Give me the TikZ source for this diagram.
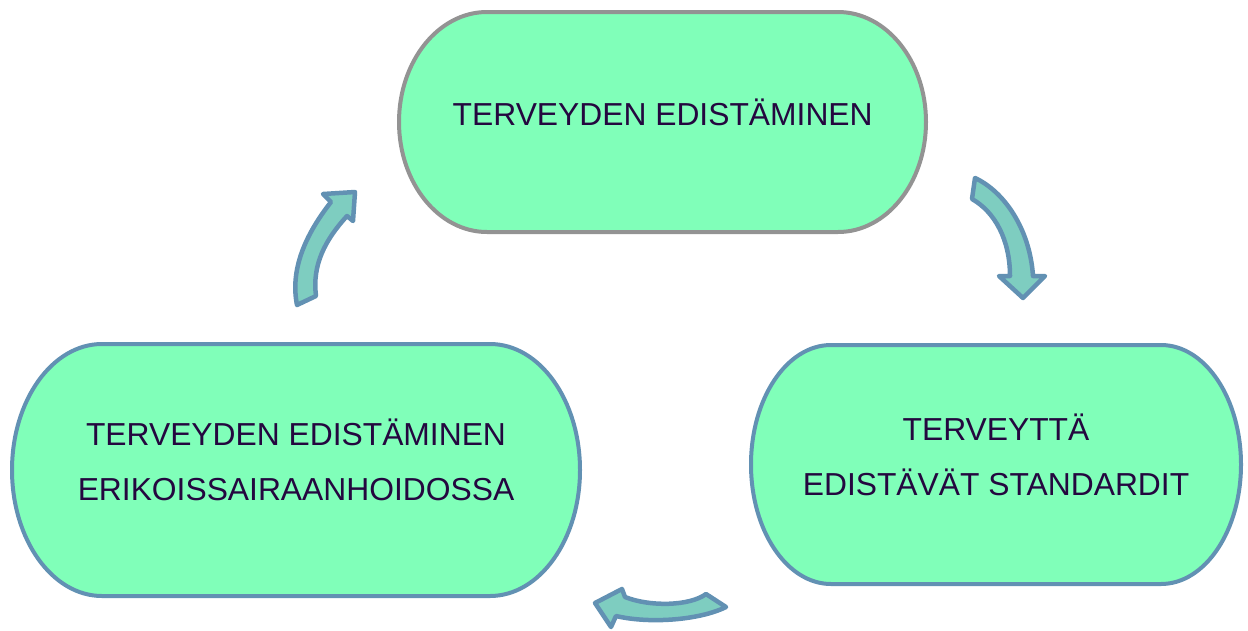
\documentclass[tikz,border=0pt]{standalone}
\usepackage{fontspec}
\setmainfont{Liberation Sans}
\usetikzlibrary{calc}
\definecolor{boxfill}{HTML}{80FFB9}
\definecolor{grayline}{HTML}{939393}
\definecolor{blueline}{HTML}{6291B3}
\definecolor{arrowfill}{HTML}{7ECDC0}
\definecolor{txt}{HTML}{24073F}
\newcommand\capsule[3]{%
  \draw[#3] let \p1=(#1.north west),\p2=(#1.south east),\n1={(\y1-\y2)/2} in
    (\x1+#2,\y1) -- (\x2-#2,\y1)
    arc[start angle=90,end angle=-90,x radius=#2,y radius=\n1]
    -- (\x1+#2,\y2)
    arc[start angle=270,end angle=90,x radius=#2,y radius=\n1] -- cycle;}
\tikzset{
  boxarea/.style={rectangle,draw=none,inner sep=0pt,outer sep=0pt},
  capsfill/.style={fill=boxfill,line width=4pt},
  lbl/.style={anchor=base,inner sep=0pt,text=txt,font=\fontsize{31.8}{40}\selectfont},
  blockarrow/.style={fill=arrowfill,draw=blueline,line width=4.5pt,line join=round}
}
\begin{document}
\begin{tikzpicture}[x=1pt,y=1pt]
\useasboundingbox (0,0) rectangle (1248,-630);
% boxes
\node[boxarea,minimum width=527pt,minimum height=220pt] (top) at (662.5,-122) {};
\node[boxarea,minimum width=568pt,minimum height=252pt] (left) at (296,-470) {};
\node[boxarea,minimum width=490pt,minimum height=239pt] (right) at (996,-464.5) {};
\capsule{top}{88pt}{capsfill,draw=grayline}
\capsule{left}{90pt}{capsfill,draw=blueline}
\capsule{right}{80pt}{capsfill,draw=blueline}
% texts
\node[lbl] (t1) at (662.7,-125) {TERVEYDEN EDISTÄMINEN};
\node[lbl] (l1) at (296,-445) {TERVEYDEN EDISTÄMINEN};
\node[lbl] (l2) at (296,-500) {ERIKOISSAIRAANHOIDOSSA};
\node[lbl] (r1) at (996,-440) {TERVEYTTÄ};
\node[lbl] (r2) at (996,-495.7) {EDISTÄVÄT STANDARDIT};
% curved block arrows
\draw[blockarrow] (975,-178) .. controls (1005,-192) and (1030,-230) .. (1033,-276)
  -- (1045,-276) -- (1023,-298) -- (999,-276) -- (1010,-276)
  .. controls (1010,-240) and (995,-212) .. (972,-199) -- cycle;
\draw[blockarrow] (706,-594) .. controls (690,-606) and (650,-607) .. (625,-597)
  -- (622,-589) -- (595,-603) -- (611,-627) -- (616,-616)
  .. controls (650,-624) and (700,-620) .. (726,-607) -- cycle;
\draw[blockarrow] (297,-305) .. controls (290,-270) and (305,-235) .. (331,-202)
  -- (323,-194) -- (355,-192) -- (353,-221) -- (347,-216)
  .. controls (325,-240) and (312,-265) .. (316,-296) -- cycle;
\end{tikzpicture}
\end{document}
